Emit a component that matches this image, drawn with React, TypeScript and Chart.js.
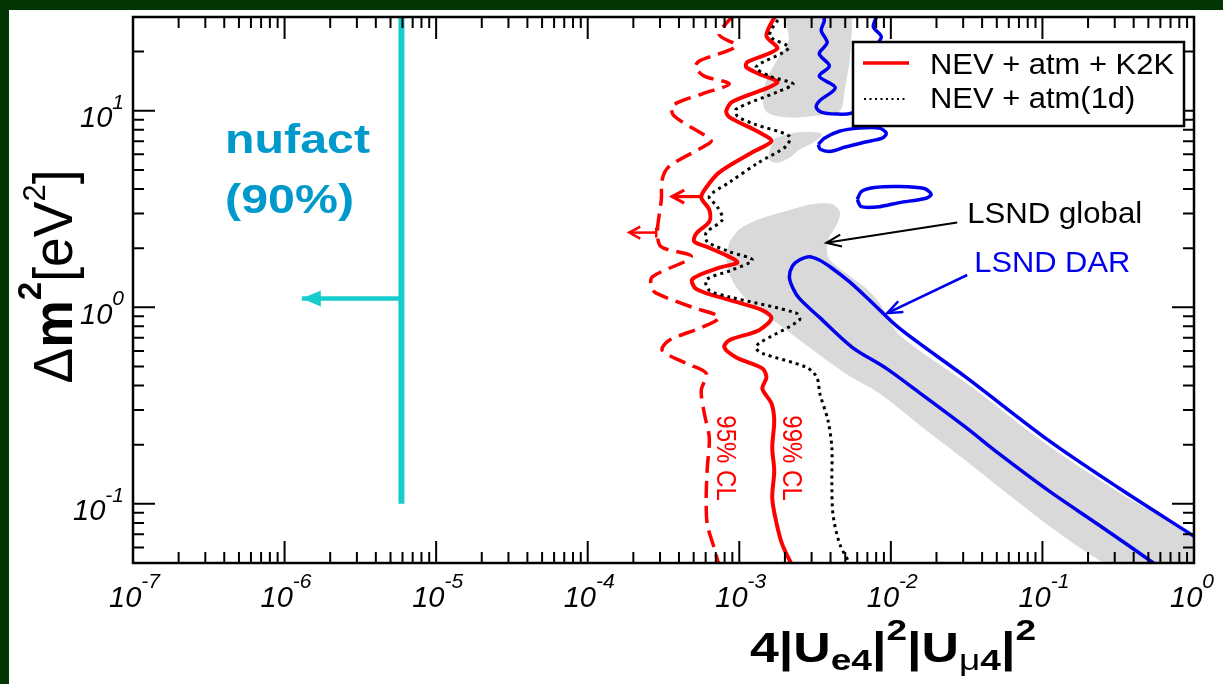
import React, { useEffect, useRef } from 'react';
import { Chart, registerables } from 'chart.js';

Chart.register(...registerables);

const W = 1223;
const H = 684;
const SANS = '"Liberation Sans", Arial, Helvetica, sans-serif';
const RED = '#ff0000';
const BLUE = '#0000ee';
const GREY = '#d9d9d9';
const TEAL = '#19cccc';
const NUFACT_BLUE = '#0099cc';

// axis ranges and decade labels (10^exp)
const X_MIN = 1e-7;
const X_MAX = 1;
const Y_MIN = 0.05;
const Y_MAX = 30;
const X_TICKS = [1e-7, 1e-6, 1e-5, 1e-4, 1e-3, 1e-2, 1e-1, 1];
const X_TICK_EXP = ['-7', '-6', '-5', '-4', '-3', '-2', '-1', '0'];
const Y_TICKS = [0.1, 1, 10];
const Y_TICK_EXP = ['-1', '0', '1'];

const LEGEND_LABELS = ['NEV + atm + K2K', 'NEV + atm(1d)'];

type P = [number, number];

// NEV + atm + K2K, 95% CL (dashed)
const K2K_95: P[] = [
  [9.27e-4, 31], [7.38e-4, 24.4], [9.55e-4, 21.4], [5.44e-4, 17.9], [5.13e-4, 16.7],
  [5.88e-4, 15.0], [8.59e-4, 13.7], [5.7e-4, 12.2], [3.61e-4, 10.6], [3.72e-4, 9.4],
  [6.05e-4, 7.42], [6.53e-4, 7.0], [5.88e-4, 6.6], [3.45e-4, 5.21], [3.1e-4, 4.47],
  [3.06e-4, 3.53], [2.88e-4, 2.4], [3.06e-4, 2.03], [4.82e-4, 1.81], [2.67e-4, 1.43],
  [2.62e-4, 1.27], [2.83e-4, 1.18], [4.9e-4, 1.0], [7.38e-4, 0.891], [5.7e-4, 0.792],
  [3.45e-4, 0.68], [3.1e-4, 0.604], [4.47e-4, 0.518], [6.05e-4, 0.461], [5.61e-4, 0.377],
  [5.88e-4, 0.288], [6.34e-4, 0.217], [6.15e-4, 0.152], [6.05e-4, 0.107], [6.15e-4, 0.0787],
  [6.84e-4, 0.0593], [7.38e-4, 0.048],
];

// NEV + atm + K2K, 99% CL (solid)
const K2K_99: P[] = [
  [1.75e-3, 31], [1.51e-3, 24.1], [1.78e-3, 20.7], [1.13e-3, 17.7], [1.11e-3, 16.7],
  [1.35e-3, 15.4], [1.78e-3, 13.9], [8.99e-4, 11.1], [8.2e-4, 9.97], [8.59e-4, 9.29],
  [1.35e-3, 7.78], [1.63e-3, 7.0], [1.22e-3, 6.15], [7.38e-4, 4.86], [6.05e-4, 4.07],
  [5.61e-4, 3.62], [6.34e-4, 3.14], [6.34e-4, 2.73], [5.2e-4, 2.37], [5.05e-4, 2.16],
  [6.34e-4, 2.01], [9.7e-4, 1.7], [7.38e-4, 1.59], [4.9e-4, 1.39], [5.2e-4, 1.24],
  [8.59e-4, 1.09], [1.42e-3, 0.968], [1.63e-3, 0.881], [1.35e-3, 0.765], [8.59e-4, 0.68],
  [7.96e-4, 0.626], [9.55e-4, 0.556], [1.42e-3, 0.489], [1.51e-3, 0.44], [1.42e-3, 0.386],
  [1.63e-3, 0.324], [1.7e-3, 0.265], [1.65e-3, 0.193], [1.7e-3, 0.147], [1.65e-3, 0.107],
  [1.75e-3, 0.0815], [1.92e-3, 0.0622], [2.25e-3, 0.048],
];

// NEV + atm(1d), 99% CL (dotted)
const ATM_1D: P[] = [
  [1.91e-3, 31], [1.59e-3, 24.1], [2.12e-3, 20.9], [1.29e-3, 16.7], [1.59e-3, 15.0],
  [2.26e-3, 13.7], [1.84e-3, 12.6], [9.55e-4, 10.2], [9.7e-4, 9.4], [1.26e-3, 8.55],
  [2.14e-3, 7.42], [2.04e-3, 6.6], [1.35e-3, 5.47], [8.59e-4, 4.32], [6.34e-4, 3.66],
  [7.16e-4, 3.25], [7.73e-4, 2.79], [6.05e-4, 2.4], [6.15e-4, 2.16], [8.59e-4, 1.92],
  [1.22e-3, 1.74], [8.99e-4, 1.55], [6.05e-4, 1.38], [6.34e-4, 1.22], [8.59e-4, 1.13],
  [2.38e-3, 0.934], [2.49e-3, 0.86], [1.35e-3, 0.656], [1.29e-3, 0.618], [1.42e-3, 0.583],
  [2.79e-3, 0.494], [3.25e-3, 0.44], [3.4e-3, 0.364], [3.85e-3, 0.265], [4.08e-3, 0.193],
  [4.08e-3, 0.131], [4.15e-3, 0.0886], [4.61e-3, 0.0622], [5.5e-3, 0.048],
];

// LSND global allowed regions (grey)
const LSND_GLOBAL_TOP: P[] = [
  [1.89e-3, 32], [2.14e-3, 23.3], [1.78e-3, 18.0], [1.53e-3, 14.5], [1.44e-3, 11.5],
  [1.53e-3, 9.85], [2.14e-3, 9.29], [3.27e-3, 9.51], [4.57e-3, 9.97], [4.93e-3, 12.9],
  [5.32e-3, 18.4], [5.56e-3, 32],
];
const LSND_GLOBAL_MID: P[] = [
  [1.7e-3, 7.17], [2.14e-3, 7.6], [2.81e-3, 7.78], [3.48e-3, 7.6], [3.13e-3, 7.0],
  [2.49e-3, 6.37], [2.14e-3, 5.8], [1.78e-3, 5.47], [1.58e-3, 5.66], [1.6e-3, 6.37],
];
const LSND_GLOBAL_MAIN: P[] = [
  [8.59e-4, 2.13], [1.0e-3, 2.48], [1.35e-3, 2.79], [2.04e-3, 3.07], [3.03e-3, 3.33],
  [4.1e-3, 3.33], [4.57e-3, 3.07], [4.43e-3, 2.7], [3.92e-3, 2.29], [3.75e-3, 2.01],
  [3.92e-3, 1.74], [5.32e-3, 1.44], [7.21e-3, 1.2], [8.65e-3, 1.01], [0.01136, 0.721],
  [0.0314, 0.41], [0.111, 0.195], [0.321, 0.1134], [1.08, 0.063], [1.08, 0.045],
  [0.331, 0.045], [0.0208, 0.212], [8.37e-3, 0.368], [5.07e-3, 0.461], [2.69e-3, 0.656],
  [1.84e-3, 0.821], [1.35e-3, 0.968], [1.03e-3, 1.18], [8.72e-4, 1.46], [8.2e-4, 1.85],
];

// LSND DAR contours (blue)
const LSND_DAR_TOP: P[] = [
  [3.53e-3, 32], [3.64e-3, 28.8], [3.47e-3, 25.6], [3.8e-3, 22.2], [3.37e-3, 19.5],
  [3.93e-3, 16.9], [3.37e-3, 15.0], [4.3e-3, 13.1], [3.37e-3, 11.2], [3.22e-3, 10.4],
  [3.47e-3, 9.85], [4.36e-3, 9.62], [5.48e-3, 9.73], [6.58e-3, 10.8], [7.21e-3, 14.5],
  [7.78e-3, 20.7], [8.65e-3, 23.8], [7.66e-3, 26.8], [8.39e-3, 32],
];
const LSND_DAR_ISLAND_1: P[] = [
  [3.32e-3, 6.75], [3.64e-3, 7.25], [4.57e-3, 7.87], [6.19e-3, 8.16], [8.39e-3, 8.16],
  [9.33e-3, 7.69], [8.77e-3, 7.25], [6.68e-3, 6.92], [4.93e-3, 6.52], [4.05e-3, 6.22],
  [3.42e-3, 6.37], [3.32e-3, 6.75],
];
const LSND_DAR_ISLAND_2: P[] = [
  [6.0e-3, 3.53], [6.38e-3, 3.88], [7.77e-3, 4.07], [0.01136, 4.12], [0.0166, 4.02],
  [0.01847, 3.75], [0.01686, 3.58], [0.01136, 3.41], [8.39e-3, 3.25], [6.38e-3, 3.25],
  [6.0e-3, 3.53],
];
const LSND_DAR_MAIN: P[] = [
  [0.636, 0.045], [0.546, 0.0497], [0.237, 0.0778], [0.111, 0.116], [0.0519, 0.1795],
  [0.0314, 0.244], [0.0154, 0.368], [9.33e-3, 0.489], [5.56e-3, 0.626], [3.37e-3, 0.891],
  [2.49e-3, 1.11], [2.24e-3, 1.27], [2.14e-3, 1.43], [2.24e-3, 1.62], [2.49e-3, 1.74],
  [2.9e-3, 1.81], [3.37e-3, 1.74], [4.05e-3, 1.59], [5.32e-3, 1.35], [7.21e-3, 1.09],
  [0.01136, 0.783], [0.0314, 0.44], [0.111, 0.209], [0.321, 0.12], [1.0, 0.0684],
  [1.18, 0.063],
];

// nufact 90% sensitivity limit and its exclusion arrow
const NUFACT_LIMIT: P[] = [[5.9e-6, 0.1], [5.9e-6, 32]];
const NUFACT_ARROW: P[] = [[5.9e-6, 1.11], [1.3e-6, 1.11]];

// small exclusion arrows on the K2K contours
const ARROW_99: P[] = [[5.61e-4, 3.66], [3.61e-4, 3.66]];
const ARROW_95: P[] = [[2.83e-4, 2.4], [1.88e-4, 2.4]];

// label pointers
const PTR_GLOBAL: P[] = [[0.0274, 2.7], [3.75e-3, 2.13]];
const PTR_DAR: P[] = [[0.0319, 1.46], [9.47e-3, 0.934]];

type Run = { t: string; font: string; dy?: number };

function runsWidth(ctx: CanvasRenderingContext2D, runs: Run[]) {
  let w = 0;
  for (const r of runs) {
    ctx.font = r.font;
    w += ctx.measureText(r.t).width;
  }
  return w;
}

function drawRuns(
  ctx: CanvasRenderingContext2D,
  runs: Run[],
  x: number,
  y: number,
  sx = 1,
  sy = 1,
  rot = 0,
  align: 'left' | 'center' = 'left',
) {
  const w = runsWidth(ctx, runs);
  ctx.save();
  ctx.translate(x, y);
  if (rot) ctx.rotate(rot);
  ctx.scale(sx, sy);
  ctx.textAlign = 'left';
  ctx.textBaseline = 'alphabetic';
  let cx = align === 'center' ? -w / 2 : 0;
  for (const r of runs) {
    ctx.font = r.font;
    ctx.fillText(r.t, cx, r.dy ?? 0);
    cx += ctx.measureText(r.t).width;
  }
  ctx.restore();
}

const decorations = {
  id: 'decorations',
  beforeDraw(chart: Chart) {
    const { ctx } = chart;
    ctx.save();
    ctx.fillStyle = '#013501';
    ctx.fillRect(0, 0, W, H);
    ctx.fillStyle = '#ffffff';
    ctx.fillRect(9, 10, W - 9, H - 10);
    ctx.restore();
  },
  afterDatasetsDraw(chart: Chart) {
    const { ctx, chartArea: a } = chart;
    const xs = chart.scales.x;
    const ys = chart.scales.y;
    const X = (v: number) => xs.getPixelForValue(v);
    const Y = (v: number) => ys.getPixelForValue(v);
    ctx.save();

    // arrow heads at the end of each pointer
    const head = (seg: P[], len: number, half: number, color: string, lw: number, filled: boolean) => {
      const [x0, y0] = [X(seg[0][0]), Y(seg[0][1])];
      const [x1, y1] = [X(seg[1][0]), Y(seg[1][1])];
      const ang = Math.atan2(y1 - y0, x1 - x0);
      const bx = x1 - len * Math.cos(ang);
      const by = y1 - len * Math.sin(ang);
      const px = -Math.sin(ang) * half;
      const py = Math.cos(ang) * half;
      ctx.beginPath();
      ctx.moveTo(bx + px, by + py);
      ctx.lineTo(x1, y1);
      ctx.lineTo(bx - px, by - py);
      if (filled) {
        ctx.closePath();
        ctx.fillStyle = color;
        ctx.fill();
      } else {
        ctx.strokeStyle = color;
        ctx.lineWidth = lw;
        ctx.lineJoin = 'miter';
        ctx.stroke();
      }
    };
    head(NUFACT_ARROW, 19, 8, TEAL, 0, true);
    head(ARROW_99, 12, 6.5, RED, 3.2, false);
    head(ARROW_95, 11, 6, RED, 2.5, false);
    head(PTR_GLOBAL, 15, 6, '#000', 2, false);
    head(PTR_DAR, 15, 6, BLUE, 2.5, false);
    // end bar of the 95% arrow
    {
      const bx = X(ARROW_95[0][0]);
      const by = Y(ARROW_95[0][1]);
      ctx.strokeStyle = RED;
      ctx.lineWidth = 2.5;
      ctx.beginPath();
      ctx.moveTo(bx, by - 5);
      ctx.lineTo(bx, by + 5);
      ctx.stroke();
    }

    // inward ticks on all four sides
    ctx.strokeStyle = '#000';
    ctx.lineWidth = 2;
    const MAJ = 22;
    const MIN = 11;
    ctx.beginPath();
    for (let e = -7; e <= 0; e++) {
      for (let m = 1; m <= 9; m++) {
        const v = m * Math.pow(10, e);
        if (v > X_MAX * 1.0001) break;
        const px = X(v);
        const len = m === 1 ? MAJ : MIN;
        ctx.moveTo(px, a.bottom);
        ctx.lineTo(px, a.bottom - len);
        ctx.moveTo(px, a.top);
        ctx.lineTo(px, a.top + len);
      }
    }
    for (let e = -2; e <= 1; e++) {
      for (let m = 1; m <= 9; m++) {
        const v = m * Math.pow(10, e);
        if (v < Y_MIN * 0.999 || v > Y_MAX * 1.001) continue;
        const py = Y(v);
        const len = m === 1 ? MAJ : MIN;
        ctx.moveTo(a.left, py);
        ctx.lineTo(a.left + len, py);
        ctx.moveTo(a.right, py);
        ctx.lineTo(a.right - len, py);
      }
    }
    ctx.stroke();
    ctx.lineWidth = 2.5;
    ctx.strokeRect(a.left, a.top, a.right - a.left, a.bottom - a.top);

    // legend
    const lx = 853;
    const ly = 42;
    ctx.fillStyle = '#ffffff';
    ctx.fillRect(lx, ly, 331, 84);
    ctx.strokeStyle = '#000';
    ctx.lineWidth = 2.5;
    ctx.strokeRect(lx, ly, 331, 84);
    ctx.strokeStyle = RED;
    ctx.lineWidth = 3.5;
    ctx.beginPath();
    ctx.moveTo(lx + 10, ly + 21);
    ctx.lineTo(lx + 56, ly + 21);
    ctx.stroke();
    ctx.fillStyle = '#000';
    for (let x = lx + 11; x < lx + 54; x += 5.5) ctx.fillRect(x, ly + 56, 2, 2);
    const legendFont = `29px ${SANS}`;
    ctx.font = legendFont;
    const sxL = 244 / ctx.measureText(LEGEND_LABELS[0]).width;
    drawRuns(ctx, [{ t: LEGEND_LABELS[0], font: legendFont }], lx + 77, ly + 32, sxL);
    drawRuns(ctx, [{ t: LEGEND_LABELS[1], font: legendFont }], lx + 77, ly + 66, sxL);

    // decade tick labels
    ctx.fillStyle = '#000';
    const baseFont = `italic 29px ${SANS}`;
    const supFont = `italic 21px ${SANS}`;
    X_TICKS.forEach((v, i) => {
      const px = X(v);
      drawRuns(ctx, [
        { t: '10', font: baseFont },
        { t: X_TICK_EXP[i], font: supFont, dy: -19 },
      ], px - 24, a.bottom + 44);
    });
    Y_TICKS.forEach((v, i) => {
      const py = Y(v);
      const runs: Run[] = [
        { t: '10', font: baseFont },
        { t: Y_TICK_EXP[i], font: supFont, dy: -18.5 },
      ];
      const w = runsWidth(ctx, runs);
      drawRuns(ctx, runs, a.left - 9 - w, py + 16.5);
    });

    // axis titles
    const xTitle: Run[] = [
      { t: '4|U', font: `bold 42px ${SANS}` },
      { t: 'e4', font: `bold 30px ${SANS}`, dy: 8 },
      { t: '|', font: `bold 42px ${SANS}` },
      { t: '2', font: `bold 30px ${SANS}`, dy: -22 },
      { t: '|U', font: `bold 42px ${SANS}` },
      { t: 'μ', font: `30px ${SANS}`, dy: 8 },
      { t: '4', font: `bold 30px ${SANS}`, dy: 8 },
      { t: '|', font: `bold 42px ${SANS}` },
      { t: '2', font: `bold 30px ${SANS}`, dy: -22 },
    ];
    drawRuns(ctx, xTitle, 750, 662, 286 / runsWidth(ctx, xTitle));

    const yTitle: Run[] = [
      { t: 'Δ', font: `50px ${SANS}` },
      { t: 'm', font: `bold 50px ${SANS}` },
      { t: '2', font: `bold 31px ${SANS}`, dy: -28 },
      { t: '[eV', font: `50px ${SANS}` },
      { t: '2', font: `29px ${SANS}`, dy: -25 },
      { t: ']', font: `50px ${SANS}` },
    ];
    drawRuns(ctx, yTitle, 72, 276.5, 214 / runsWidth(ctx, yTitle), 1.1, -Math.PI / 2, 'center');

    // nufact annotation
    ctx.fillStyle = NUFACT_BLUE;
    const nfFont = `bold 41px ${SANS}`;
    ctx.font = nfFont;
    const sxN = 145 / ctx.measureText('nufact').width;
    drawRuns(ctx, [{ t: 'nufact', font: nfFont }], X(4.05e-7), Y(6.07), sxN);
    drawRuns(ctx, [{ t: '(90%)', font: nfFont }], X(4.05e-7), Y(3.03), sxN);

    // LSND labels
    const lsFont = `29px ${SANS}`;
    ctx.fillStyle = '#000';
    ctx.font = lsFont;
    drawRuns(ctx, [{ t: 'LSND global', font: lsFont }], X(0.0319), Y(2.7), 175 / ctx.measureText('LSND global').width);
    ctx.fillStyle = BLUE;
    ctx.font = lsFont;
    drawRuns(ctx, [{ t: 'LSND DAR', font: lsFont }], X(0.0355), Y(1.52), 156 / ctx.measureText('LSND DAR').width);

    // confidence-level labels along the K2K contours
    ctx.fillStyle = RED;
    const clFont = `24px ${SANS}`;
    drawRuns(ctx, [{ t: '95% CL', font: clFont, dy: 8.6 }], X(8.33e-4), Y(0.171), 1, 1.18, Math.PI / 2, 'center');
    drawRuns(ctx, [{ t: '99% CL', font: clFont, dy: 8.6 }], X(2.27e-3), Y(0.171), 1, 1.18, Math.PI / 2, 'center');

    ctx.restore();
  },
};

const toXY = (data: P[]) => data.map(([x, y]) => ({ x, y }));

const curve = (data: P[], color: string, width: number, extra: Record<string, unknown> = {}) => ({
  data: toXY(data),
  showLine: true,
  borderColor: color,
  backgroundColor: color,
  borderWidth: width,
  pointRadius: 0,
  pointHoverRadius: 0,
  fill: false,
  tension: 0.3,
  borderJoinStyle: 'round',
  order: 1,
  ...extra,
});

const region = (data: P[]) =>
  curve(data, GREY, 1, { fill: 'shape', backgroundColor: GREY, order: 5 });

export default function App() {
  const canvasRef = useRef<HTMLCanvasElement | null>(null);

  useEffect(() => {
    const canvas = canvasRef.current;
    if (!canvas) return;
    const chart = new Chart(canvas, {
      type: 'scatter',
      data: {
        datasets: [
          region(LSND_GLOBAL_TOP),
          region(LSND_GLOBAL_MID),
          region(LSND_GLOBAL_MAIN),
          curve(LSND_DAR_TOP, BLUE, 3.5),
          curve(LSND_DAR_ISLAND_1, BLUE, 3.5),
          curve(LSND_DAR_ISLAND_2, BLUE, 3.5),
          curve(LSND_DAR_MAIN, BLUE, 3.5),
          curve(ATM_1D, '#000', 3, { borderDash: [3, 4] }),
          curve(K2K_95, RED, 3.5, { borderDash: [17, 8] }),
          curve(K2K_99, RED, 4),
          curve(ARROW_99, RED, 3.2, { tension: 0 }),
          curve(ARROW_95, RED, 2.5, { tension: 0 }),
          curve(NUFACT_LIMIT, TEAL, 6, { tension: 0 }),
          curve(NUFACT_ARROW, TEAL, 4.5, { tension: 0 }),
          curve(PTR_GLOBAL, '#000', 2, { tension: 0 }),
          curve(PTR_DAR, BLUE, 2.5, { tension: 0 }),
        ] as any,
      },
      options: {
        responsive: false,
        animation: false,
        events: [],
        layout: { padding: { left: 133, top: 17, right: 29, bottom: 121 } },
        scales: {
          x: { type: 'logarithmic', min: X_MIN, max: X_MAX, display: false },
          y: { type: 'logarithmic', min: Y_MIN, max: Y_MAX, display: false },
        },
        plugins: {
          legend: { display: false },
          tooltip: { enabled: false },
        },
      },
      plugins: [decorations as any],
    });
    return () => chart.destroy();
  }, []);

  return (
    <div style={{ position: 'fixed', left: 0, top: 0, width: W, height: H }}>
      <canvas ref={canvasRef} width={W} height={H} style={{ display: 'block' }} />
    </div>
  );
}
